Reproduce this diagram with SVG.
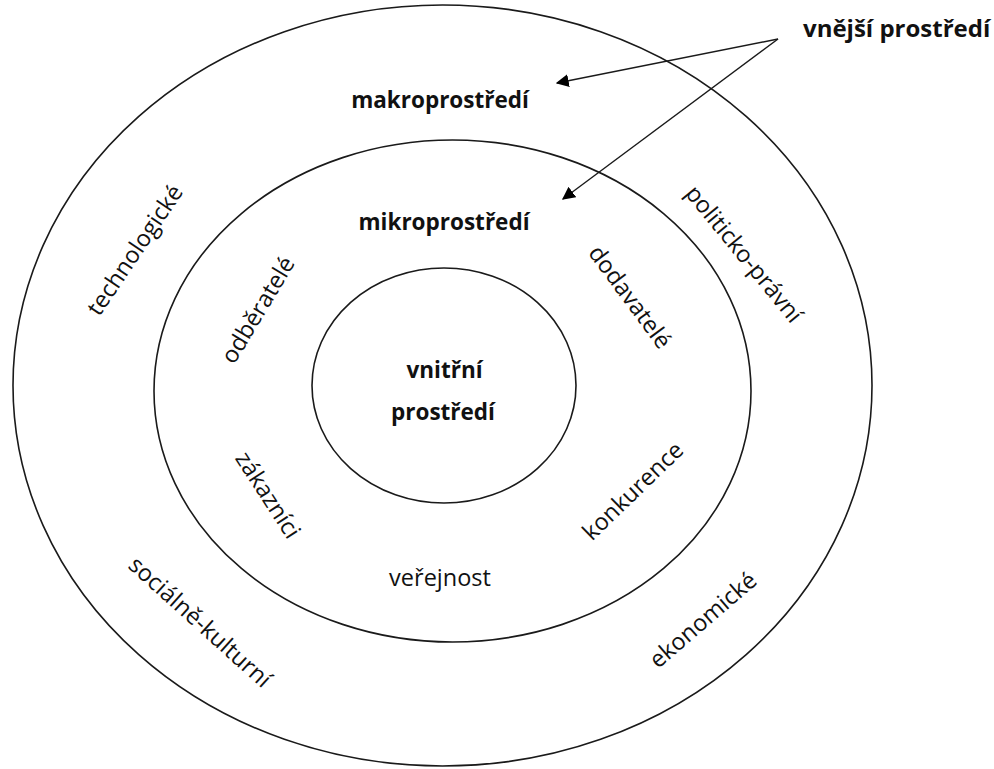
<svg xmlns="http://www.w3.org/2000/svg" width="994" height="769" viewBox="0 0 994 769">
<style>
.ring{fill:none;stroke:#1a1a1a;stroke-width:1.6}
.t{font-family:"Open Sans","Liberation Sans",sans-serif;font-size:23.5px;fill:#111;text-anchor:middle}
.b{font-weight:bold;font-size:22.5px}
.con{stroke:#1a1a1a;stroke-width:1.4;fill:none}
</style>
<defs>
<marker id="ah" viewBox="0 0 10 10" refX="9" refY="5" markerWidth="13" markerHeight="13" markerUnits="userSpaceOnUse" orient="auto">
<path d="M0,0 L10,5 L0,10 z" fill="#000"/>
</marker>
</defs>
<rect width="994" height="769" fill="#fff"/>
<g id="outer"><ellipse class="ring" cx="442.5" cy="385.5" rx="429.5" ry="380.5"/>
<text class="t b" x="440" y="108">makroprostředí</text>
<text class="t" transform="translate(135,250) rotate(-56)" y="8">technologické</text>
<text class="t" transform="translate(744,254) rotate(50.7)" y="8">politicko-právní</text>
<text class="t" transform="translate(200,622) rotate(42)" y="8">sociálně-kulturní</text>
<text class="t" transform="translate(703,620) rotate(-40.7)" y="8">ekonomické</text>
</g>
<g id="middle"><ellipse class="ring" cx="452.5" cy="391" rx="298.5" ry="251"/>
<text class="t b" x="444" y="230">mikroprostředí</text>
<text class="t" transform="translate(258,310) rotate(-59)" y="8">odběratelé</text>
<text class="t" transform="translate(630,297) rotate(53.5)" y="8">dodavatelé</text>
<text class="t" transform="translate(268,495) rotate(57)" y="8">zákazníci</text>
<text class="t" transform="translate(633,491) rotate(-44)" y="8">konkurence</text>
<text class="t" x="440" y="586">veřejnost</text>
</g>
<g id="inner"><ellipse class="ring" cx="444" cy="385.5" rx="132" ry="117.5"/>
<text class="t b" x="444.5" y="378">vnitřní</text>
<text class="t b" x="443" y="420">prostředí</text>
</g>
<g id="label"><text class="t b" x="803" y="37" style="font-size:24px;text-anchor:start">vnější prostředí</text></g>
<g id="connectors">
<line class="con" x1="778" y1="39" x2="557" y2="83" marker-end="url(#ah)"/>
<line class="con" x1="778" y1="39" x2="563" y2="199" marker-end="url(#ah)"/>
</g>
</svg>
